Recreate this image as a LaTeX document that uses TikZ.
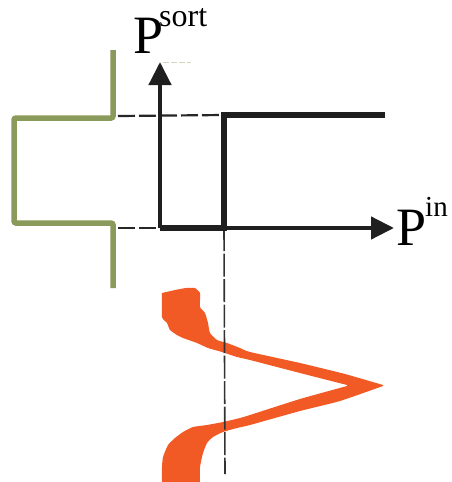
\documentclass[tikz,border=0pt]{standalone}
\usepackage{fontspec}
\setmainfont{Liberation Serif}
\usetikzlibrary{arrows.meta}
\definecolor{olivegreen}{RGB}{138,154,90}
\definecolor{sortorange}{RGB}{241,90,36}
\definecolor{dashgray}{RGB}{50,50,50}
\tikzset{
  greenline/.style={draw=olivegreen, line width=5.5pt, rounded corners=2pt},
  stepline/.style={draw=black!88, line width=6pt},
  axisline/.style={draw=black!88, line width=4.5pt, -{Triangle[length=23pt,width=22pt]}},
  guide/.style={draw=black!85, line width=2.2pt, dash pattern=on 17pt off 4pt},
  vguide/.style={draw=dashgray, line width=1.6pt, dash pattern=on 23pt off 2.5pt},
  lab/.style={anchor=base west, inner sep=0pt, text=black},
}
\begin{document}
\begin{tikzpicture}[x=1pt,y=-1pt]
\useasboundingbox (0,0) rectangle (451,482);
% named points
\coordinate (gTop) at (113,50);
\coordinate (gA) at (113,118);
\coordinate (gB) at (14,118);
\coordinate (gC) at (14,223);
\coordinate (gD) at (113,223);
\coordinate (gBot) at (113,288);
\coordinate (O) at (160,228);
\coordinate (yTip) at (160,62);
\coordinate (xTip) at (394,228);
\coordinate (sB) at (224,228);
\coordinate (sT) at (224,115);
\coordinate (sE) at (385,115);
\coordinate (dTL) at (118,116);
\coordinate (dBL) at (118,228);
\coordinate (vEnd) at (225,474);
% green curve
\draw[greenline] (gTop) -- (gA) -- (gB) -- (gC) -- (gD) -- (gBot);
% dashed guides
\draw[guide] (dTL) -- (sT);
\draw[guide] (dBL) -- (O);
% faint mark near arrow tip
\draw[draw=olivegreen!40, line width=1pt, dash pattern=on 6pt off 2pt] (163,62) -- (191,62);
% orange distribution
\fill[sortorange]
  plot[smooth,tension=0.3] coordinates {(162,293) (175,290) (186,288) (195,288)}
  -- plot[smooth,tension=0.3] coordinates {(195,288) (200,293) (200,307) (205,313) (208,323) (210,333) (217,340) (227,343) (240,348) (250,352) (300,363) (345,374) (383,385)}
  -- plot[smooth,tension=0.3] coordinates {(383,386) (340,401) (300,411) (250,425) (237,428) (223,432) (213,437) (207,443) (203,453) (200,467) (200,482)}
  -- (162,482)
  -- plot[smooth,tension=0.3] coordinates {(162,482) (162,467) (163,457) (168,445) (175,438) (183,432) (193,427) (207,425) (223,422) (240,418) (250,415) (300,399) (347,386)}
  -- plot[smooth,tension=0.3] coordinates {(347,385) (300,373) (250,360) (237,357) (222,352) (208,348) (197,343) (183,338) (177,335) (170,330) (167,323) (162,317) (162,293)}
  -- cycle;
\draw[vguide] (sB) -- (vEnd);
% axes
\draw[axisline] (O) -- (yTip);
\draw[axisline] (O) -- (xTip);
% step function
\draw[stepline, line join=miter] (O) -- (sB) -- (sT) -- (sE);
% labels
\node[lab] (psort) at (133,53) {\fontsize{54}{54}\selectfont P\kern-4pt\raisebox{27pt}{\fontsize{32}{32}\selectfont sort}};
\node[lab] (pin) at (396,245) {\fontsize{54}{54}\selectfont P\kern-1pt\raisebox{29pt}{\fontsize{29}{29}\selectfont in}};
\end{tikzpicture}
\end{document}
